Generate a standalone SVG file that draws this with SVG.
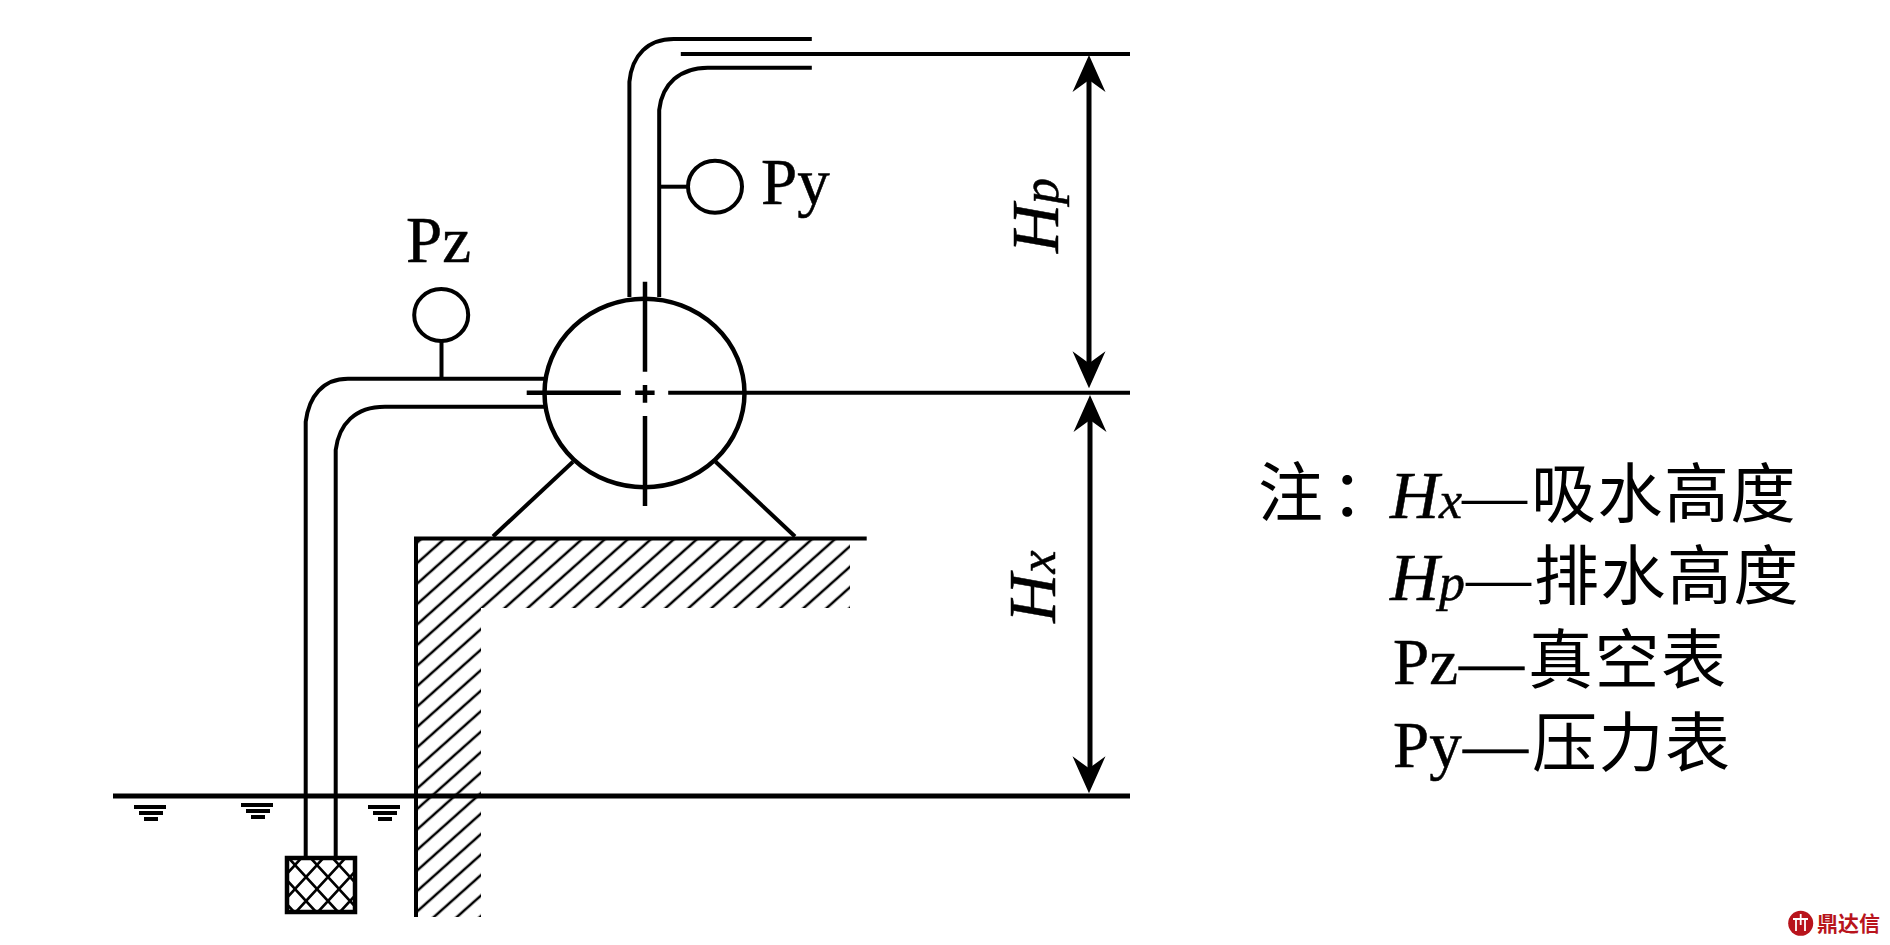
<svg xmlns="http://www.w3.org/2000/svg" width="1890" height="945" viewBox="0 0 1890 945">
<style>
.ln{fill:none;stroke:#000;stroke-width:4}
.dim{fill:none;stroke:#000;stroke-width:5}
.t{font-family:"Liberation Serif","Times New Roman",serif;font-size:65px;fill:#000;stroke:#000;stroke-width:.5}
.i{font-family:"Liberation Serif","Times New Roman",serif;font-style:italic;font-size:68px;fill:#000;stroke:#000;stroke-width:.5}
.s{font-size:52px}
.c{font-family:"Noto Sans CJK SC",sans-serif;font-size:65px;fill:#000;font-weight:400;font-style:normal;stroke:none;letter-spacing:1.5px}
.row{font-family:"Liberation Serif","Times New Roman",serif;font-size:65px;fill:#000}
</style>
<defs>
<path id="head" d="M0 0L16.5 37L0 25L-16.5 37Z" fill="#000"/>
<pattern id="hatch" width="12" height="15.3" patternUnits="userSpaceOnUse" patternTransform="translate(418 562.3) rotate(-41.7) translate(0 -7.65)">
<rect y="6.4" width="12" height="2.5" fill="#000"/>
</pattern>
<pattern id="mesh" width="22" height="24" patternUnits="userSpaceOnUse" patternTransform="translate(295 865)">
<path d="M0 0L22 24M22 0L0 24" stroke="#000" stroke-width="2.6" fill="none"/>
</pattern>
<g id="water"><rect x="0" y="0" width="32" height="4" fill="#000"/><rect x="5" y="6" width="24" height="4" fill="#000"/><rect x="10" y="12" width="14" height="4" fill="#000"/></g>
</defs>
<rect width="1890" height="945" fill="#fff"/>

<g id="ground">
<path d="M416 538H850V608H481V917H416Z" fill="url(#hatch)"/>
<path class="ln" d="M866.7 538.5H416V917"/>
</g>

<g id="connectors">
<path class="ln" d="M629.4 297V81.7C632 55 648 39 673.6 39H811.8"/>
<path class="ln" d="M659.2 297V110C662 84 680 67.7 707.7 67.7H811.8"/>
<path class="ln" d="M305.7 857V421.7C309 396 323 378.7 348 378.7H546"/>
<path class="ln" d="M335.7 857V450C339 424 355 406.7 385 406.7H546"/>
<path class="ln" d="M659 186.7H690"/>
<path class="ln" d="M441.5 341V378"/>
<path class="ln" d="M715.6 461.7L795 536.5"/>
<path class="ln" d="M573 461.7L493 536.5"/>
<path class="ln" d="M680.8 54H1130"/>
<path class="ln" d="M668.2 392.7H1130"/>
<path class="dim" d="M113 796H1130"/>
<path class="dim" d="M1089 70V370"/>
<path class="dim" d="M1090 415V775"/>
<use href="#head" transform="translate(1089 55)"/>
<use href="#head" transform="translate(1089 388.3) rotate(180)"/>
<use href="#head" transform="translate(1090 395)"/>
<use href="#head" transform="translate(1089 793.3) rotate(180)"/>
</g>

<g id="pump">
<ellipse class="ln" cx="644.5" cy="393" rx="100" ry="94.3" style="stroke-width:4.5"/>
<path class="ln" style="stroke-width:4.5" d="M645 281.7V371.7M645 385V402.7M645 416V506M526.7 392.7H620.8M635.2 392.7H654.6"/>
</g>

<g id="gauge-py">
<ellipse class="ln" cx="715" cy="186.7" rx="27" ry="26"/>
<text class="t" x="761" y="204">Py</text>
</g>
<g id="gauge-pz">
<ellipse class="ln" cx="441.2" cy="315" rx="27" ry="26"/>
<text class="t" x="406" y="261.7">Pz</text>
</g>

<g id="basket">
<rect x="287" y="858" width="68" height="54" fill="url(#mesh)" stroke="#000" stroke-width="4.5"/>
</g>

<g id="water-marks">
<use href="#water" x="134" y="805"/>
<use href="#water" x="241" y="803"/>
<use href="#water" x="368" y="805"/>
</g>

<g id="dim-labels">
<text class="i" transform="translate(1057.6 253) rotate(-90)">H<tspan class="s">p</tspan></text>
<text class="i" transform="translate(1055.3 622.7) rotate(-90)">H<tspan class="s">x</tspan></text>
</g>

<g id="legend">
<text class="c" x="1258" y="516">注<tspan x="1331">：</tspan></text>
<text class="row" y="518"><tspan class="i" x="1390">H</tspan><tspan class="i s">x</tspan><tspan x="1462">—</tspan><tspan class="c" x="1531" dy="-1">吸水高度</tspan></text>
<text class="row" y="600"><tspan class="i" x="1390">H</tspan><tspan class="i s">p</tspan><tspan x="1466">—</tspan><tspan class="c" x="1534" dy="-1">排水高度</tspan></text>
<text class="row" y="684" stroke="#000" stroke-width=".5"><tspan x="1393">Pz</tspan><tspan x="1459">—</tspan><tspan class="c" x="1528" dy="-1">真空表</tspan></text>
<text class="row" y="767" stroke="#000" stroke-width=".5"><tspan x="1393">Py</tspan><tspan x="1463">—</tspan><tspan class="c" x="1532" dy="-1">压力表</tspan></text>
</g>

<g id="watermark">
<circle cx="1800.7" cy="923.3" r="12.5" fill="#b8141c"/>
<path d="M1793 919H1808M1796 919V931M1805 919V931M1800.7 914V925" stroke="#fff" stroke-width="1.8" fill="none"/>
<text x="1817" y="931" style="font-family:'Noto Sans CJK SC',sans-serif;font-size:21px;font-weight:700;fill:#b8141c">鼎达信</text>
</g>
</svg>
